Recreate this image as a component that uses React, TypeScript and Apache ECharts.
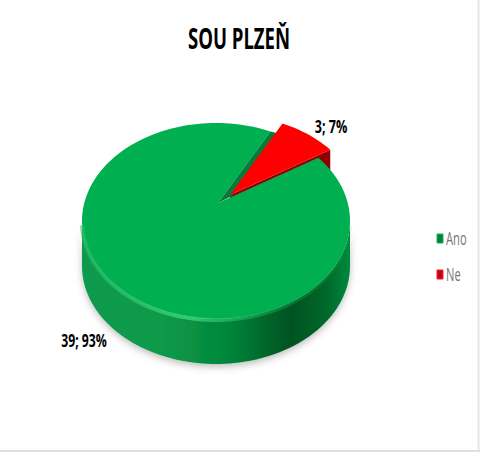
import React, { useEffect, useRef } from "react";
import * as echarts from "echarts";

const categories = ["Ano", "Ne"];
const values = [39, 3];
const titleText = "SOU PLZEŇ";

const FONT = "'Open Sans', sans-serif";
const CX = 216, CY = 221, RX = 134, RY = 98, DEPTH = 45;
const AX = 218, AY = 203;
const START = 24; // degrees clockwise of the slice "Ne" start on the ellipse
const OFF = [12, -8];
const total = values.reduce((a, b) => a + b, 0);
const neSpan = (values[1] / total) * 360;
const END = START + neSpan;

const P = (deg: number, dx = 0, dy = 0): number[] => {
  const r = (deg * Math.PI) / 180;
  return [CX + RX * Math.sin(r) + dx, CY - RY * Math.cos(r) + dy];
};
const arc = (a: number, b: number, dx = 0, dy = 0): number[][] => {
  const out: number[][] = [];
  const n = Math.max(2, Math.ceil(Math.abs(b - a) / 2));
  for (let i = 0; i <= n; i++) out.push(P(a + ((b - a) * i) / n, dx, dy));
  return out;
};

const squeezed = (text: string, x: number, y: number, size: number, sx: number, weight: string, fill: string, z2 = 8) => ({
  type: "text", x, y, scaleX: sx, z2,
  style: { x: 0, y: 0, text, font: `${weight} ${size}px ${FONT}`, fill, align: "center", verticalAlign: "middle" },
});

function renderAno(_p: any, api: any) {
  const v = api.value(0);
  const pct = Math.round((v / total) * 100);
  const sideTop = arc(90, 270);
  const sideBottom = arc(270, 90, 0, DEPTH);
  const top = [[AX, AY], ...arc(END, START + 360)];
  const e = P(START);
  return {
    type: "group",
    children: [
      {
        type: "polygon", z2: 1,
        shape: { points: [...sideTop, ...sideBottom] },
        style: {
          shadowBlur: 7, shadowColor: "rgba(0,0,0,0.25)", shadowOffsetY: 3,
          fill: new echarts.graphic.LinearGradient(0, 0, 1, 0, [
            { offset: 0, color: "#0d9a4d" },
            { offset: 0.3, color: "#0a9a4a" },
            { offset: 0.55, color: "#04853c" },
            { offset: 0.78, color: "#00521f" },
            { offset: 0.92, color: "#006a2b" },
            { offset: 1, color: "#008a3c" },
          ]),
        },
      },
      {
        type: "polygon", z2: 3,
        shape: { points: top },
        style: { fill: "#00b050" },
      },
      {
        type: "polyline", z2: 4,
        shape: { points: arc(268, 92, 0, 1) },
        style: {
          fill: "none", lineWidth: 4,
          stroke: new echarts.graphic.LinearGradient(0, 0, 1, 0, [
            { offset: 0, color: "rgba(40,190,105,0.6)" },
            { offset: 0.4, color: "rgba(60,215,125,0.8)" },
            { offset: 0.7, color: "rgba(20,170,85,0.5)" },
            { offset: 1, color: "rgba(0,176,80,0.1)" },
          ]),
        },
      },
      {
        type: "polygon", z2: 5,
        shape: { points: [[AX, AY], e, [e[0] + 8, e[1] + 2], [AX + OFF[0] + 2, AY + OFF[1] + 1]] },
        style: { fill: "#067a3a" },
      },
      squeezed(`${v}; ${pct}%`, 84, 341, 18, 0.68, "bold", "#000"),
    ],
  };
}

function renderNe(_p: any, api: any) {
  const v = api.value(0);
  const pct = Math.round((v / total) * 100);
  const [ox, oy] = OFF;
  const apex = [AX + ox, AY + oy];
  const R = P(END, ox, oy);
  return {
    type: "group",
    children: [
      {
        type: "polygon", z2: 2,
        shape: { points: [apex, R, [R[0], R[1] + 20], [apex[0], apex[1] + 20]] },
        style: { fill: "#8f0000" },
      },
      {
        type: "polygon", z2: 6,
        shape: { points: [apex, ...arc(START, END, ox, oy)] },
        style: { fill: "#ff0000" },
      },
      squeezed(`${v}; ${pct}%`, 331, 126, 18, 0.7, "bold", "#000"),
    ],
  };
}

const legendItems = categories.map((name, i) => {
  const y = [238, 274][i];
  return {
    type: "group",
    children: [
      { type: "rect", shape: { x: 437, y: y - 4, width: 6, height: 9 }, style: { fill: ["#067f3e", "#c80010"][i], stroke: ["#12b35c", "#f02030"][i], lineWidth: 1 } },
      { type: "text", x: 446, y, scaleX: 0.62, style: { x: 0, y: 0, text: name, font: `18px ${FONT}`, fill: "#757575", align: "left", verticalAlign: "middle" } },
    ],
  };
});

export default function App() {
  const ref = useRef<HTMLDivElement>(null);
  useEffect(() => {
    const chart = echarts.init(ref.current!, undefined, { renderer: "svg" });
    chart.setOption({
      animation: false,
      backgroundColor: "#fff",
      graphic: [
        { type: "text", x: 239, y: 38, scaleX: 0.64, style: { x: 0, y: 0, text: titleText, font: `bold 29px ${FONT}`, fill: "#000", align: "center", verticalAlign: "middle" } },
        ...legendItems,
        { type: "line", shape: { x1: 478.5, y1: 0, x2: 478.5, y2: 452 }, style: { stroke: "#e6e6e6", lineWidth: 2 } },
        { type: "line", shape: { x1: 0, y1: 451, x2: 480, y2: 451 }, style: { stroke: "#e0e0e0", lineWidth: 2 } },
      ],
      series: [
        { type: "custom", name: categories[0], coordinateSystem: "none", data: [[values[0]]], renderItem: renderAno, itemStyle: { color: "#00a04a" } },
        { type: "custom", name: categories[1], coordinateSystem: "none", data: [[values[1]]], renderItem: renderNe, itemStyle: { color: "#e00010" } },
      ],
    });
    return () => chart.dispose();
  }, []);
  return <div ref={ref} style={{ position: "fixed", left: 0, top: 0, width: 480, height: 452 }} />;
}
